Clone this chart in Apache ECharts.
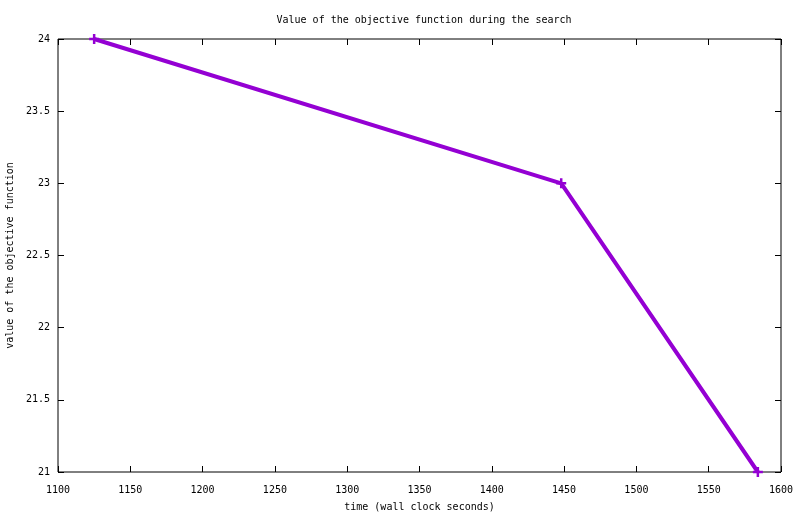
<!DOCTYPE html>
<html>
<head>
<meta charset="utf-8">
<script src="https://cdn.jsdelivr.net/npm/echarts@6/dist/echarts.min.js"></script>
<style>
  html, body { margin: 0; padding: 0; background: #fff; }
  #chart { width: 800px; height: 514px; }
</style>
</head>
<body>
<div id="chart"></div>
<script>
// values
const times = [1125, 1448, 1584];
const objective = [24, 23, 21];
const chartTitle = 'Value of the objective function during the search';
const xName = 'time (wall clock seconds)';
const yName = 'value of the objective function';

const font = 'DejaVu Sans Mono';
const plus = 'path://M3,0H5V3H8V5H5V8H3V5H0V3H3Z';

let myChart = echarts.init(document.getElementById('chart'));

function axisBase(extra) {
    return Object.assign({
        axisLine: { show: false },
        axisTick: { show: true, inside: true, length: 6, lineStyle: { color: '#000', width: 1 } },
        splitLine: { show: false },
        axisLabel: { color: '#000', fontFamily: font, fontSize: 10 }
    }, extra);
}

let options = {
    animation: false,
    backgroundColor: '#fff',
    title: {
        text: chartTitle,
        left: 419, top: 10, textAlign: 'center',
        textStyle: { fontFamily: font, fontSize: 10, fontWeight: 'normal', color: '#000' }
    },
    grid: {
        left: 58, right: 19, top: 39, bottom: 42,
        outerBoundsMode: 'none',
        containLabel: false,
        show: true, borderColor: '#000', borderWidth: 1, backgroundColor: 'transparent'
    },
    xAxis: [
        axisBase({
            type: 'value', min: 1100, max: 1600, interval: 50,
            name: xName, nameLocation: 'middle', nameGap: 30,
            nameTextStyle: { fontFamily: font, fontSize: 10, color: '#000' },
            axisLabel: { color: '#000', fontFamily: font, fontSize: 10, margin: 13,
                formatter: v => String(v) }
        }),
        axisBase({
            type: 'value', position: 'top', min: 1100, max: 1600, interval: 50,
            axisLabel: { show: false }
        })
    ],
    yAxis: [
        axisBase({
            type: 'value', min: 21, max: 24, interval: 0.5,
            name: yName, nameLocation: 'middle', nameGap: 43,
            nameTextStyle: { fontFamily: font, fontSize: 10, color: '#000' },
            axisLabel: { color: '#000', fontFamily: font, fontSize: 10, margin: 8,
                formatter: v => String(v) }
        }),
        axisBase({
            type: 'value', position: 'right', min: 21, max: 24, interval: 0.5,
            axisLabel: { show: false }
        })
    ],
    series: [{
        type: 'line',
        data: times.map((t, i) => [t, objective[i]]),
        symbol: plus,
        symbolSize: 10,
        showAllSymbol: true,
        lineStyle: { color: '#9400d3', width: 4 },
        itemStyle: { color: '#9400d3' },
        clip: false
    }]
};

myChart.setOption(options);
</script>
</body>
</html>
